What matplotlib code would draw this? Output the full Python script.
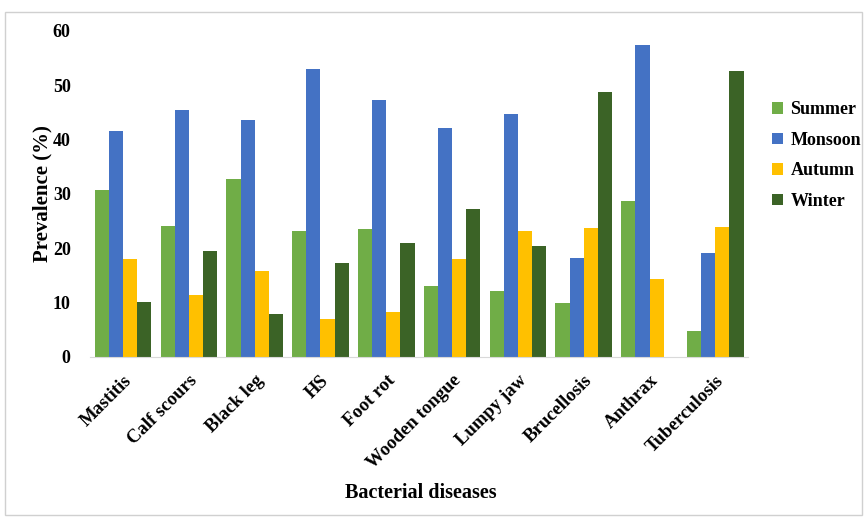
import numpy as np
import matplotlib
matplotlib.use("Agg")
import matplotlib.pyplot as plt
from matplotlib.patches import Rectangle

# data
diseases = ["Mastitis", "Calf scours", "Black leg", "HS", "Foot rot",
            "Wooden tongue", "Lumpy jaw", "Brucellosis", "Anthrax", "Tuberculosis"]
summer = [30.6, 24.0, 32.7, 23.1, 23.6, 13.1, 12.1, 9.8, 28.7, 4.8]
monsoon = [41.6, 45.4, 43.6, 52.9, 47.3, 42.1, 44.6, 18.1, 57.3, 19.0]
autumn = [18.0, 11.4, 15.8, 6.9, 8.2, 18.0, 23.1, 23.7, 14.3, 23.9]
winter = [10.0, 19.5, 7.9, 17.3, 20.9, 27.1, 20.4, 48.7, 0.0, 52.6]
seasons = ["Summer", "Monsoon", "Autumn", "Winter"]
colors = ["#70AD47", "#4472C4", "#FFC000", "#3B6326"]

plt.rcParams['font.family'] = ['Liberation Serif', 'DejaVu Serif']

fig = plt.figure(figsize=(8.67, 5.19), dpi=100)
ax = fig.add_axes([0.104, 0.3127, 0.759, 0.628])

x = np.arange(len(diseases))
w = 0.215
series = [summer, monsoon, autumn, winter]
for i, (vals, name, c) in enumerate(zip(series, seasons, colors)):
    ax.bar(x + (i - 1.5) * w, vals, w, color=c, label=name)

ax.set_xlim(-0.5, len(diseases) - 0.5)
ax.set_ylim(0, 60)
ax.set_yticks(range(0, 61, 10))
ax.tick_params(axis='y', length=0, labelsize=13, pad=14)
ax.tick_params(axis='x', length=0, pad=11)
for t in ax.get_yticklabels():
    t.set_fontweight('bold')
ax.set_xticks(x)
ax.set_xticklabels(diseases, rotation=45, ha='right', rotation_mode='anchor',
                   fontsize=13.5, fontweight='bold')
for s in ['top', 'right', 'left']:
    ax.spines[s].set_visible(False)
ax.spines['bottom'].set_color('#d9d9d9')

ax.set_ylabel("Prevalence (%)", fontsize=15, fontweight='bold', labelpad=0)
fig.text(0.485, 0.05, "Bacterial diseases", fontsize=14.5, fontweight='bold',
         ha='center', va='center')

leg = fig.legend(loc='center left', bbox_to_anchor=(0.872, 0.70), frameon=False,
                 prop={'weight': 'bold', 'size': 13}, handlelength=0.6,
                 handleheight=0.6, handletextpad=0.4, labelspacing=0.75)

fig.patches.append(Rectangle((0.006, 0.008), 0.988, 0.969, transform=fig.transFigure,
                             fill=False, edgecolor='#d0d0d0', linewidth=1))

fig.savefig("out.png", dpi=100)
